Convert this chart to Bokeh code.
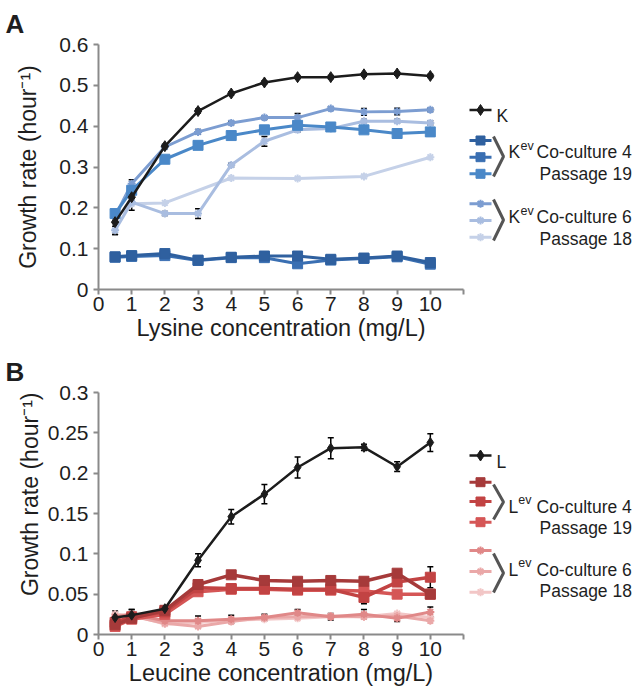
from bokeh.plotting import figure
from bokeh.layouts import column, row
from bokeh.models import Range1d, FixedTicker, Whisker, ColumnDataSource, TeeHead
from bokeh.embed import file_html
from bokeh.resources import INLINE
from bokeh.core.properties import value

FONT = "Liberation Sans"
TXT = "#1e1e1e"

# ---------------- data ----------------
conc = [0.5, 1, 2, 3, 4, 5, 6, 7, 8, 9, 10]
conc_sparse = [0.5, 1, 2, 4, 6, 8, 10]

x_ticks = [0, 1, 2, 3, 4, 5, 6, 7, 8, 9, 10, 11]
x_labels = ["0", "1", "2", "3", "4", "5", "6", "7", "8", "9", "10", ""]

# Panel A: lysine
ya_ticks = [0, 0.1, 0.2, 0.3, 0.4, 0.5, 0.6]
ya_labels = ["0", "0.1", "0.2", "0.3", "0.4", "0.5", "0.6"]
k_wt = [0.165, 0.226, 0.351, 0.437, 0.480, 0.507, 0.520, 0.520, 0.527, 0.529, 0.523]
k_wt_err = [0.030, 0.010, 0.005, 0.005, 0.004, 0.004, 0.004, 0.004, 0.004, 0.004, 0.004]
kev4_a = [0.080, 0.083, 0.088, 0.072, 0.079, 0.082, 0.082, 0.074, 0.077, 0.082, 0.066]
kev4_b = [0.079, 0.081, 0.083, 0.071, 0.078, 0.078, 0.063, 0.072, 0.076, 0.080, 0.062]
kev4_c = [0.186, 0.243, 0.319, 0.353, 0.377, 0.391, 0.402, 0.398, 0.391, 0.382, 0.386]
kev6_a = [0.180, 0.259, 0.349, 0.386, 0.408, 0.421, 0.421, 0.443, 0.435, 0.436, 0.440]
kev6_a_err = [0.010, 0.010, 0.005, 0.006, 0.004, 0.004, 0.010, 0.004, 0.008, 0.008, 0.004]
kev6_b = [0.145, 0.214, 0.186, 0.186, 0.305, 0.363, 0.391, 0.394, 0.412, 0.412, 0.408]
kev6_b_err = [0.010, 0.020, 0.005, 0.012, 0.005, 0.012, 0.005, 0.005, 0.005, 0.005, 0.005]
kev6_c = [0.175, 0.210, 0.212, 0.273, 0.272, 0.277, 0.324]

# Panel B: leucine
yb_ticks = [0, 0.05, 0.1, 0.15, 0.2, 0.25, 0.3]
yb_labels = ["0", "0.05", "0.1", "0.15", "0.2", "0.25", "0.3"]
l_wt = [0.021, 0.024, 0.032, 0.092, 0.146, 0.174, 0.207, 0.231, 0.232, 0.208, 0.238]
l_wt_err = [0.008, 0.007, 0.003, 0.008, 0.009, 0.012, 0.013, 0.013, 0.004, 0.006, 0.011]
lev4_a = [0.012, 0.020, 0.030, 0.062, 0.074, 0.067, 0.066, 0.067, 0.066, 0.076, 0.050]
lev4_b = [0.015, 0.022, 0.028, 0.058, 0.057, 0.057, 0.056, 0.056, 0.046, 0.065, 0.071]
lev4_b_err = [0.004, 0.004, 0.004, 0.008, 0.004, 0.006, 0.006, 0.004, 0.008, 0.004, 0.013]
lev4_c = [0.010, 0.019, 0.025, 0.053, 0.056, 0.056, 0.055, 0.055, 0.054, 0.050, 0.050]
lev6_a = [0.022, 0.025, 0.017, 0.017, 0.019, 0.021, 0.027, 0.022, 0.025, 0.020, 0.028]
lev6_a_err = [0.006, 0.006, 0.003, 0.006, 0.005, 0.004, 0.004, 0.004, 0.006, 0.004, 0.006]
lev6_b = [0.020, 0.023, 0.014, 0.010, 0.016, 0.021, 0.022, 0.023, 0.022, 0.023, 0.017]
lev6_c = [0.025, 0.024, 0.013, 0.015, 0.018, 0.019, 0.020, 0.022, 0.022, 0.026, 0.021]

# colours
BLACK = "#1c1c1c"
BLUE4 = ["#2f609f", "#3a6fb2", "#4a88c8"]
BLUE6 = ["#7c9dd1", "#a9bde0", "#c5d1e8"]
RED4 = ["#a63a3a", "#c24343", "#d55656"]
PINK6 = ["#e08888", "#eaa8a8", "#f2c6c6"]

# ---------------- layout (page pixels) ----------------
LEFT = 98          # frame left
MAIN_W = 466       # width of the chart figure (frame 365 px for 0..11)
LEG_W = 174        # width of the legend figure
NBSP = "\u00a0"


def make_panel(height, border_top, border_bottom, y_max, y_ticks, y_labels,
               letter, title_standoff, xlabel, ylabel, ylabel_standoff):
    p = figure(width=MAIN_W, height=height, output_backend="svg", toolbar_location=None,
               x_range=Range1d(0, x_ticks[-1]), y_range=Range1d(0, y_max),
               min_border_left=LEFT, min_border_right=3,
               min_border_top=border_top, min_border_bottom=border_bottom)
    p.xgrid.visible = False
    p.ygrid.visible = False
    p.outline_line_color = None
    for ax in (p.xaxis, p.yaxis):
        ax.axis_line_color = "#8a8a8a"
        ax.axis_line_width = 2
        ax.major_tick_line_color = "#8a8a8a"
        ax.major_tick_line_width = 2
        ax.major_tick_out = 5
        ax.major_tick_in = 0
        ax.minor_tick_line_color = None
        ax.major_label_text_font = FONT
        ax.major_label_text_font_size = "21px"
        ax.major_label_text_color = TXT
        ax.axis_label_text_font = FONT
        ax.axis_label_text_font_style = "normal"
        ax.axis_label_text_color = TXT
    p.xaxis.ticker = FixedTicker(ticks=x_ticks)
    p.xaxis.major_label_overrides = dict(zip(x_ticks, x_labels))
    p.xaxis.major_label_standoff = 2
    p.xaxis.axis_label = xlabel
    p.xaxis.axis_label_text_font_size = "23.5px"
    p.xaxis.axis_label_standoff = 1
    p.yaxis.ticker = FixedTicker(ticks=y_ticks)
    p.yaxis.major_label_overrides = dict(zip(y_ticks, y_labels))
    p.yaxis.major_label_standoff = 5
    p.yaxis.axis_label = ylabel
    p.yaxis.axis_label_text_font_size = "23px"
    p.yaxis.axis_label_standoff = ylabel_standoff
    p.title.text = letter
    p.title.align = "left"
    p.title.offset = -LEFT + 5
    p.title.text_font = FONT
    p.title.text_font_size = "26px"
    p.title.text_font_style = "bold"
    p.title.text_color = TXT
    p.title.standoff = title_standoff
    return p


def legend_fig(height, border_top, border_bottom, frame_top, frame_bottom):
    # frame rows are aligned with the chart's frame; y range is in page pixels
    lf = figure(width=LEG_W, height=height, output_backend="svg", toolbar_location=None,
                x_range=Range1d(MAIN_W, MAIN_W + LEG_W),
                y_range=Range1d(frame_bottom, frame_top),
                x_axis_location=None, y_axis_location=None,
                min_border_left=0, min_border_right=0,
                min_border_top=border_top, min_border_bottom=border_bottom)
    lf.xgrid.visible = False
    lf.ygrid.visible = False
    lf.outline_line_color = None
    return lf


def errbars(p, xs, ys, es):
    src = ColumnDataSource(dict(x=xs, lo=[y - e for y, e in zip(ys, es)],
                                hi=[y + e for y, e in zip(ys, es)]))
    w = Whisker(source=src, base="x", lower="lo", upper="hi", line_color="black",
                line_width=1.5, level="underlay",
                upper_head=TeeHead(size=6, line_color="black", line_width=1.5),
                lower_head=TeeHead(size=6, line_color="black", line_width=1.5))
    p.add_layout(w)


def series(p, xs, ys, color, marker, size, lw=3):
    p.line(xs, ys, line_color=color, line_width=lw)
    if marker == "asterisk":
        p.scatter(xs, ys, marker=marker, size=size, line_color=color, line_width=2)
    else:
        p.scatter(xs, ys, marker=marker, size=size, fill_color=color, line_color=color)


def txt(p, x, y, s, size):
    p.text(x=[x], y=[y], text=[s], text_font=value(FONT), text_font_size=size,
           text_baseline="alphabetic", text_align="left", text_color=TXT)


def legend(lf, letter, letter_w, main_y, groups):
    lf.line([469, 491], [main_y, main_y], line_color=BLACK, line_width=2.5)
    lf.scatter([480], [main_y], marker="diamond", size=11, fill_color=BLACK, line_color=BLACK)
    txt(lf, 496, main_y + 6, letter, "17.5px")
    for g in groups:
        colors, marker, ys, btop, bbot, base1, base2, num, passage = g
        for c, yy in zip(colors, ys):
            lf.line([469, 491], [yy, yy], line_color=c, line_width=3)
            if marker == "asterisk":
                lf.scatter([480], [yy], marker=marker, size=8, line_color=c, line_width=2)
            else:
                lf.scatter([480], [yy], marker=marker, size=9, fill_color=c, line_color=c)
        lf.line([493, 503, 493], [btop, (btop + bbot) / 2, bbot], line_color="#555555", line_width=3)
        txt(lf, 508, base1, letter, "17.5px")
        txt(lf, 508 + letter_w, base1 - 6.5, "ev", "12.5px")
        txt(lf, 536, base1, "Co-culture " + num, "17.5px")
        txt(lf, 539, base2, "Passage " + passage, "17.5px")


# ---------------- panel A ----------------
pa = make_panel(348, 44, 59, ya_ticks[-1], ya_ticks, ya_labels, "A", 12,
                "Lysine concentration (mg/L)", "Growth rate (hour\u207b\u00b9)", 15)
errbars(pa, conc, k_wt, k_wt_err)
errbars(pa, conc, kev6_a, kev6_a_err)
errbars(pa, conc, kev6_b, kev6_b_err)
series(pa, conc_sparse, kev6_c, BLUE6[2], "asterisk", 8)
series(pa, conc, kev6_b, BLUE6[1], "asterisk", 8)
series(pa, conc, kev6_a, BLUE6[0], "asterisk", 8)
series(pa, conc, kev4_c, BLUE4[2], "square", 10)
series(pa, conc, kev4_b, BLUE4[1], "square", 10)
series(pa, conc, kev4_a, BLUE4[0], "square", 10)
series(pa, conc, k_wt, BLACK, "diamond", 11, lw=2.5)

la = legend_fig(348, 44, 59, 44, 289)
legend(la, "K", 12, 109.5, [
    (BLUE4, "square", [140, 156.7, 173.3], 136, 176, 151.7, 173.3, "4", "19"),
    (BLUE6, "asterisk", [203.3, 220, 236.7], 199, 240, 216.7, 238.3, "6", "18"),
])

# ---------------- panel B ----------------
pb = make_panel(343, 44, 57, yb_ticks[-1], yb_ticks, yb_labels, "B", 12,
                "Leucine concentration (mg/L)",
                NBSP * 6 + "Growth rate (hour\u207b\u00b9)", 2)
errbars(pb, conc, l_wt, l_wt_err)
errbars(pb, conc, lev4_b, lev4_b_err)
errbars(pb, conc, lev6_a, lev6_a_err)
series(pb, conc, lev6_c, PINK6[2], "asterisk", 8)
series(pb, conc, lev6_b, PINK6[1], "asterisk", 8)
series(pb, conc, lev6_a, PINK6[0], "asterisk", 8)
series(pb, conc, lev4_c, RED4[2], "square", 10, lw=3.5)
series(pb, conc, lev4_b, RED4[1], "square", 10, lw=3.5)
series(pb, conc, lev4_a, RED4[0], "square", 10, lw=3.5)
series(pb, conc, l_wt, BLACK, "diamond", 10, lw=2.5)

lb = legend_fig(343, 44, 57, 392, 634)
legend(lb, "L", 9.7, 455, [
    (RED4, "square", [481.7, 501, 521.7], 484, 519, 506, 527, "4", "19"),
    (PINK6, "asterisk", [550, 571, 591.7], 553, 592, 569, 590, "6", "18"),
])

layout = column(row(pa, la, spacing=0), row(pb, lb, spacing=0), spacing=0)
open("out.html", "w").write(file_html(layout, INLINE))
